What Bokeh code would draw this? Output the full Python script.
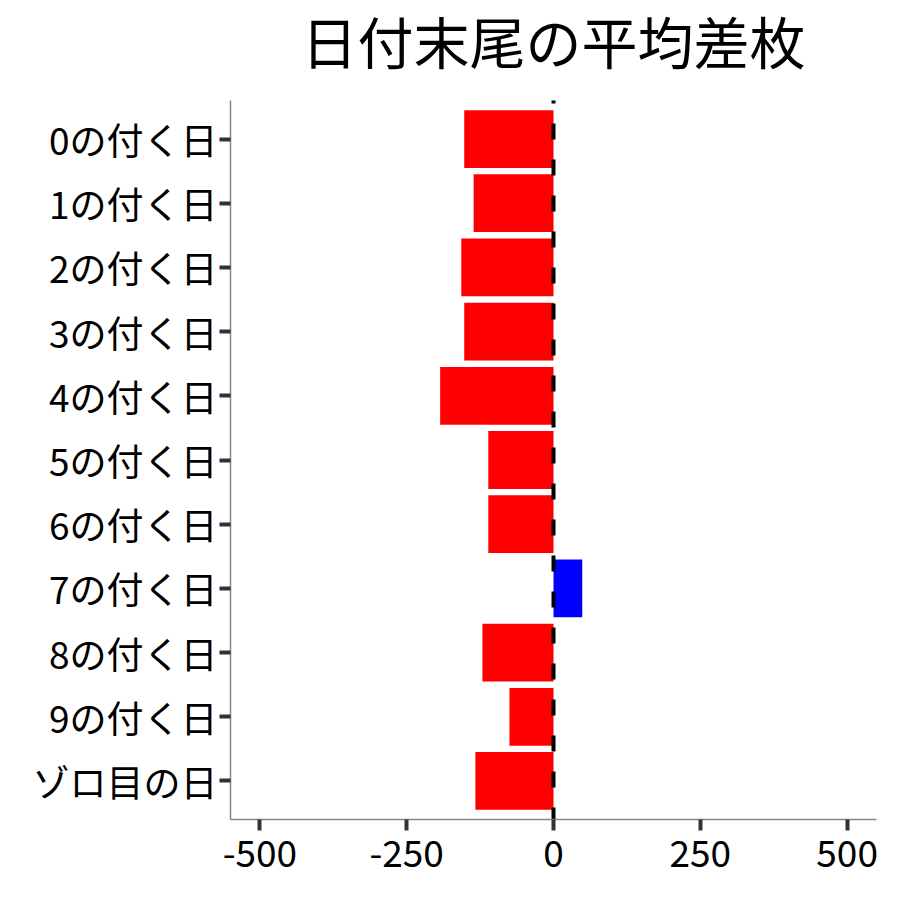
from bokeh.plotting import figure
from bokeh.models import ColumnDataSource, Range1d, FixedTicker
from bokeh.core.properties import value
from bokeh.embed import file_html
from bokeh.resources import INLINE

categories = ["0の付く日", "1の付く日", "2の付く日", "3の付く日", "4の付く日",
              "5の付く日", "6の付く日", "7の付く日", "8の付く日", "9の付く日", "ゾロ目の日"]
values = [-152, -136, -157, -152, -193, -111, -111, 49, -121, -75, -133]
x_ticks = [-500, -250, 0, 250, 500]
title_text = "日付末尾の平均差枚"

FONT = "Noto Sans CJK JP"
n = len(categories)
ypos = [n - i for i in range(n)]
y0, y1 = 0.4, n + 0.6          # data extent (ggplot-like expansion)
data_px = 719                  # pixel height of the data area
top_px = 90                    # extra frame room above the data area for the title
upp = (y1 - y0) / data_px      # data units per pixel
y_end = y1 + top_px * upp
title_y = y1 + 61 * upp        # title baseline above the data area

src = ColumnDataSource(dict(
    y=ypos,
    left=[min(v, 0) for v in values],
    right=[max(v, 0) for v in values],
    color=["#0000FF" if v > 0 else "#FF0000" for v in values],
))

p = figure(width=884, height=884, output_backend="svg", toolbar_location=None,
           x_range=Range1d(-550, 550), y_range=Range1d(y0, y_end),
           min_border_left=230, min_border_right=8, min_border_top=100 - top_px,
           min_border_bottom=65)

p.hbar(y="y", left="left", right="right", height=0.9, color="color", source=src, line_color=None)

# dashed reference line at 0, drawn from the bottom of the data area upward
p.segment(x0=[0], y0=[y0], x1=[0], y1=[y1], line_color="black", line_width=4,
          line_dash="16 20", line_dash_offset=4)

p.text(x=[0], y=[title_y], text=[title_text], text_align="center",
       text_baseline="alphabetic", text_font=value(FONT), text_font_size="56px",
       text_color="black")

p.xgrid.visible = False
p.ygrid.visible = False
p.outline_line_color = None
p.background_fill_color = "white"
p.border_fill_color = "white"

p.xaxis.ticker = FixedTicker(ticks=x_ticks)
p.xaxis.major_label_overrides = {t: str(t) for t in x_ticks}
p.yaxis.ticker = FixedTicker(ticks=ypos)
p.yaxis.major_label_overrides = {y: c for y, c in zip(ypos, categories)}
p.yaxis.bounds = (y0, y1)

for ax in (p.xaxis[0], p.yaxis[0]):
    ax.axis_line_color = "#888888"
    ax.axis_line_width = 1.5
    ax.major_tick_line_color = "#333333"
    ax.major_tick_line_width = 4
    ax.major_tick_in = 0
    ax.major_tick_out = 11
    ax.minor_tick_line_color = None
    ax.major_label_text_font = FONT
    ax.major_label_text_font_size = "37px"
    ax.major_label_text_color = "black"
p.yaxis.major_label_standoff = 2
p.xaxis.major_label_standoff = 9

open("out.html", "w").write(file_html(p, INLINE))
